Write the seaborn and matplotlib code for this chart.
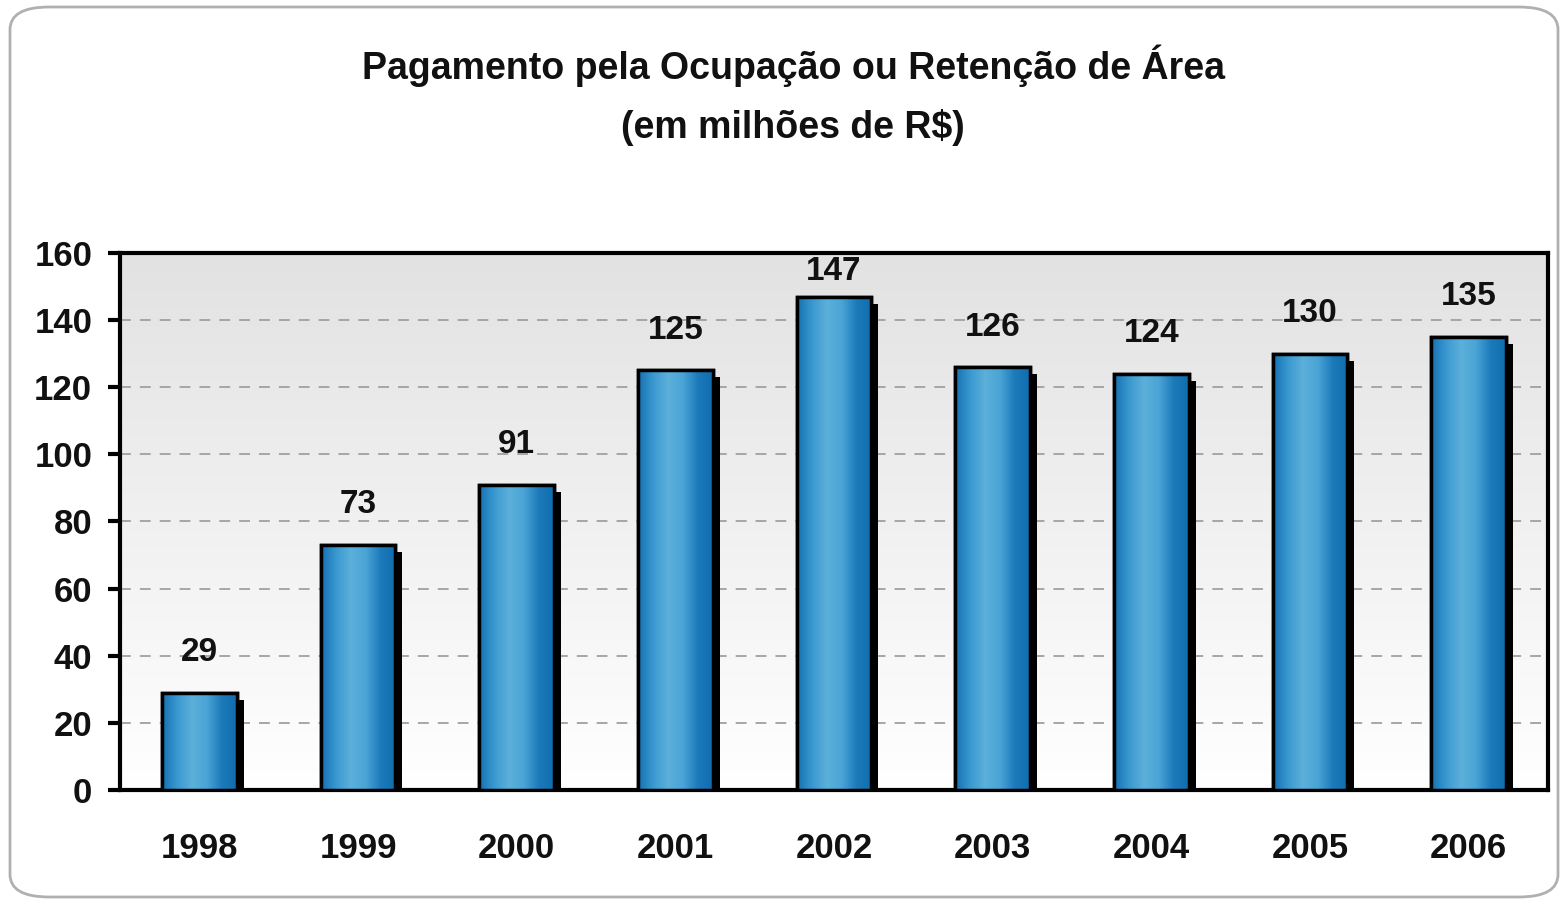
"""Pagamento pela Ocupação ou Retenção de Área - bar chart recreation."""

import matplotlib

matplotlib.use("Agg")

import matplotlib.pyplot as plt
import matplotlib.transforms as mtransforms
from matplotlib.colors import LinearSegmentedColormap
from matplotlib.patches import FancyBboxPatch, Rectangle
import numpy as np
import pandas as pd
import seaborn as sns

years = ["1998", "1999", "2000", "2001", "2002", "2003", "2004", "2005", "2006"]
values = [29, 73, 91, 125, 147, 126, 124, 130, 135]
yticks = [0, 20, 40, 60, 80, 100, 120, 140, 160]

title = "Pagamento pela Ocupação ou Retenção de Área\n(em milhões de R$)"

sns.set_theme(style="white")
plt.rcParams["font.family"] = ["Liberation Sans", "DejaVu Sans"]
plt.rcParams["font.weight"] = "bold"

W, H = 1565, 905
fig = plt.figure(figsize=(W / 100, H / 100), dpi=100)
ax_px = (120, 253, 1548, 790)  # left, top, right, bottom in pixels
ax = fig.add_axes([ax_px[0] / W, 1 - ax_px[3] / H,
                   (ax_px[2] - ax_px[0]) / W, (ax_px[3] - ax_px[1]) / H])

df = pd.DataFrame({"year": years, "value": values})
sns.barplot(data=df, x="year", y="value", ax=ax, width=0.47, color="#2b8ac6",
            edgecolor="black", linewidth=2.5, saturation=1, zorder=3)

# background gradient: light grey at top fading to white
bg = np.linspace(0, 1, 256).reshape(-1, 1)
bg_cmap = LinearSegmentedColormap.from_list("bg", ["#ffffff", "#e2e2e2"])
ax.imshow(bg, cmap=bg_cmap, aspect="auto", extent=[-0.5, 8.5, 0, 160],
          origin="lower", zorder=0)

# bar gradient: darker at edges, lighter in the middle
bar_cmap = LinearSegmentedColormap.from_list(
    "bar", ["#1470b0", "#3a98d0", "#5cb0da", "#4aa4d6", "#1c7aba", "#106cae"])
grad = np.linspace(0, 1, 256).reshape(1, -1)
shadow_off = mtransforms.ScaledTranslation(7 / 100, -7 / 100, fig.dpi_scale_trans)
for p in list(ax.patches):
    x0, w, h = p.get_x(), p.get_width(), p.get_height()
    shadow = Rectangle((x0, 0), w, h, facecolor="black", edgecolor="none",
                       transform=ax.transData + shadow_off, zorder=2, clip_on=True)
    ax.add_patch(shadow)
    im = ax.imshow(grad, cmap=bar_cmap, aspect="auto",
                   extent=[x0, x0 + w, 0, h], zorder=3.5)
    im.set_clip_path(p)
    edge = Rectangle((x0, 0), w, h, facecolor="none", edgecolor="black",
                     linewidth=2.5, zorder=4)
    ax.add_patch(edge)

# value labels ~40px above the bar, kept inside the plot area
px_per_unit = (ax_px[3] - ax_px[1]) / 160
for i, v in enumerate(values):
    room = (160 - v) * px_per_unit - 19
    off_px = min(40, room)
    ax.annotate(str(v), (i, v), xytext=(0, off_px * 0.72), textcoords="offset points",
                ha="center", va="center", fontsize=24, fontweight="bold", color="#111111")

ax.set_xlim(-0.5, 8.5)
ax.set_ylim(0, 160)
ax.set_yticks(yticks)
ax.set_yticklabels([str(t) for t in yticks])
for t in yticks[1:-1]:
    ax.axhline(t, color="#a0a0a0", linestyle=(0, (6, 5)), linewidth=1.3, zorder=1)

ax.set_xlabel("")
ax.set_ylabel("")
ax.tick_params(axis="y", direction="out", length=9, width=3, labelsize=25, pad=11,
               left=True, colors="black")
ax.tick_params(axis="x", length=0, labelsize=25, pad=30)
for lbl in ax.get_xticklabels() + ax.get_yticklabels():
    lbl.set_fontweight("bold")
    lbl.set_color("#111111")
for s in ax.spines.values():
    s.set_color("black")
    s.set_linewidth(3)
    s.set_visible(True)
ax.grid(False)

fig.text(793 / W, 1 - 95 / H, title, ha="center", va="center", fontsize=27,
         fontweight="bold", color="#111111", linespacing=1.75)

frame = FancyBboxPatch((10 / W, 8 / H), 1548 / W, 890 / H,
                       boxstyle="round,pad=0,rounding_size=0.025",
                       transform=fig.transFigure, facecolor="none",
                       edgecolor="#b0b0b0", linewidth=2, zorder=-1)
fig.patches.append(frame)

fig.savefig("out.png", dpi=100)
